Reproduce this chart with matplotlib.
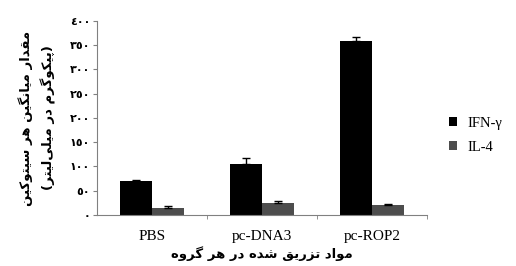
import matplotlib
matplotlib.use('Agg')
import matplotlib.pyplot as plt
import numpy as np

# data
groups = ['PBS', 'pc-DNA3', 'pc-ROP2']
ifn_gamma = [70, 106, 358]
ifn_err = [2, 12, 8]
il4 = [15, 25, 20]
il4_err = [3, 4, 3]

ylabel_fa = 'مقدار میانگین هر سیتوکین\n(پیکوگرم در میلی\u200cلیتر)'
xlabel_fa = 'مواد تزریق شده در هر گروه'
yticks = [0, 50, 100, 150, 200, 250, 300, 350, 400]

# isolated, final, initial, medial presentation forms
FORMS = {
    'ا': ('\uFE8D', '\uFE8E', None, None),
    'د': ('\uFEA9', '\uFEAA', None, None),
    'ر': ('\uFEAD', '\uFEAE', None, None),
    'ز': ('\uFEAF', '\uFEB0', None, None),
    'و': ('\uFEED', '\uFEEE', None, None),
    'ب': ('\uFE8F', '\uFE90', '\uFE91', '\uFE92'),
    'پ': ('\uFB56', '\uFB57', '\uFB58', '\uFB59'),
    'ت': ('\uFE95', '\uFE96', '\uFE97', '\uFE98'),
    'س': ('\uFEB1', '\uFEB2', '\uFEB3', '\uFEB4'),
    'ش': ('\uFEB5', '\uFEB6', '\uFEB7', '\uFEB8'),
    'ق': ('\uFED5', '\uFED6', '\uFED7', '\uFED8'),
    'ک': ('\uFB8E', '\uFB8F', '\uFB90', '\uFB91'),
    'گ': ('\uFB92', '\uFB93', '\uFB94', '\uFB95'),
    'ل': ('\uFEDD', '\uFEDE', '\uFEDF', '\uFEE0'),
    'م': ('\uFEE1', '\uFEE2', '\uFEE3', '\uFEE4'),
    'ن': ('\uFEE5', '\uFEE6', '\uFEE7', '\uFEE8'),
    'ه': ('\uFEE9', '\uFEEA', '\uFEEB', '\uFEEC'),
    'ی': ('\uFBFC', '\uFBFD', '\uFBFE', '\uFBFF'),
}


def shape_line(text):
    out = []
    for i, c in enumerate(text):
        if c not in FORMS:
            if c != '\u200c':
                out.append(c)
            continue
        prev = text[i - 1] if i > 0 else ''
        nxt = text[i + 1] if i + 1 < len(text) else ''
        jp = prev in FORMS and FORMS[prev][2] is not None
        jn = nxt in FORMS and FORMS[c][2] is not None
        iso, fin, ini, med = FORMS[c]
        if jp and jn:
            out.append(med)
        elif jp:
            out.append(fin)
        elif jn:
            out.append(ini)
        else:
            out.append(iso)
    s = ''.join(out)[::-1]
    return s.translate(str.maketrans('()', ')('))


def shape(text):
    return '\n'.join(shape_line(l) for l in text.split('\n'))


def fa_digits(v):
    return str(v).translate(str.maketrans('0123456789', '٠١٢٣٤٥٦٧٨٩'))


fig = plt.figure(figsize=(5.16, 2.66), dpi=100)
ax = fig.add_axes([0.188, 0.192, 0.64, 0.729])

x = np.arange(len(groups))
w = 0.29
ekw = dict(ecolor='black', elinewidth=1, capsize=3, capthick=1)
ax.bar(x - w / 2, ifn_gamma, w, color='black', label='IFN-γ',
       yerr=[np.zeros(3), ifn_err], error_kw=ekw)
ax.bar(x + w / 2, il4, w, color='#4d4d4d', label='IL-4',
       yerr=[np.zeros(3), il4_err], error_kw=ekw)

ax.set_xlim(-0.5, 2.5)
ax.set_ylim(0, 400)
ax.set_xticks(x)
ax.set_xticklabels(groups, family='Liberation Serif', fontsize=11)
ax.set_xticks([0.5, 1.5, 2.5], minor=True)
ax.tick_params(axis='x', which='major', length=0, pad=11)
ax.tick_params(axis='x', which='minor', length=3, color='#808080')
ax.set_yticks(yticks)
ax.set_yticklabels([fa_digits(v) for v in yticks], family='DejaVu Sans',
                   fontsize=8, fontweight='bold')
ax.tick_params(axis='y', length=3, color='#808080', pad=2)

for side in ['top', 'right']:
    ax.spines[side].set_visible(False)
for side in ['left', 'bottom']:
    ax.spines[side].set_color('#808080')

ax.set_ylabel(shape(ylabel_fa), family='DejaVu Sans', fontsize=9.5,
              fontweight='bold', labelpad=10, linespacing=1.6)
ax.set_xlabel(shape(xlabel_fa), family='DejaVu Sans', fontsize=9.5,
              fontweight='bold', labelpad=2)

ax.legend(loc='center left', bbox_to_anchor=(1.025, 0.41), frameon=False,
          prop={'family': 'Liberation Serif', 'size': 10.5},
          handlelength=0.6, handleheight=0.6, handletextpad=0.7,
          labelspacing=0.75)

fig.savefig('out.png', dpi=100)
